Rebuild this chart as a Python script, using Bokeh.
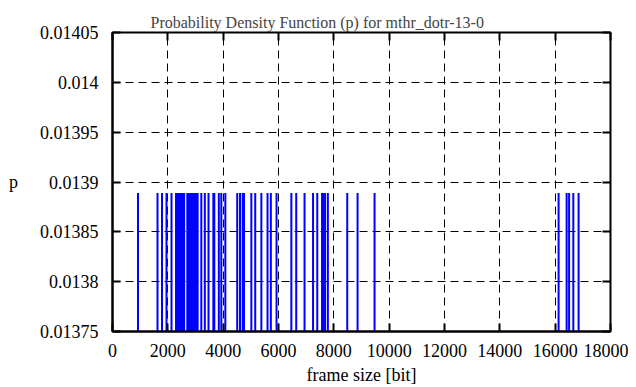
from bokeh.plotting import figure
from bokeh.models import FixedTicker, LinearAxis, Range1d, ColumnDataSource
from bokeh.embed import file_html
from bokeh.resources import INLINE

# ---- data ----
frame_sizes = [
    922, 1627, 1790, 1952, 2133,
    2296, 2325, 2357, 2386, 2415, 2448, 2476, 2509, 2538, 2567, 2589,
    2704, 2733, 2759, 2787, 2820, 2849, 2874, 2907, 2936, 2965, 2990, 3022, 3051, 3077,
    3210, 3337, 3471, 3644, 3680, 3843, 3933,
    4078, 4508, 4610, 4707, 4754, 5018, 5159, 5380, 5604, 5723, 5929,
    6464, 6641, 6941, 7249, 7401, 7574, 7628, 7683, 7784, 8485, 8858, 9472,
    16124, 16414, 16504, 16656, 16847,
]
prob_value = 0.013889
probs = [prob_value] * len(frame_sizes)
base = [0.0] * len(frame_sizes)

x_ticks = [0, 2000, 4000, 6000, 8000, 10000, 12000, 14000, 16000, 18000]
y_ticks = [0.01375, 0.0138, 0.01385, 0.0139, 0.01395, 0.014, 0.01405]
y_tick_labels = ["0.01375", "0.0138", "0.01385", "0.0139", "0.01395", "0.014", "0.01405"]

title_text = "Probability Density Function (p) for mthr_dotr-13-0"
x_label = "frame size [bit]"
y_label = "p"

TITLE_FONT = "Times New Roman"
FONT = "Liberation Serif"

p = figure(
    output_backend="svg", toolbar_location=None,
    frame_width=498, frame_height=299,
    min_border_left=112, min_border_right=18, min_border_top=32, min_border_bottom=10,
    x_range=Range1d(x_ticks[0], x_ticks[-1]),
    y_range=Range1d(y_ticks[0], y_ticks[-1]),
    title=title_text,
)
p.title.align = "left"
p.title.vertical_align = "top"
p.title.text_font = TITLE_FONT
p.title.text_font_size = "16px"
p.title.text_font_style = "normal"
p.title.standoff = 0
p.title.offset = 38

src = ColumnDataSource(dict(x=frame_sizes, y0=base, y1=probs))
p.segment(x0="x", y0="y0", x1="x", y1="y1", source=src,
          line_color="#0000ff", line_width=2)

xt = FixedTicker(ticks=x_ticks, minor_ticks=[])
yt = FixedTicker(ticks=y_ticks, minor_ticks=[])

p.xaxis.ticker = xt
p.yaxis.ticker = yt
p.yaxis.major_label_overrides = {v: s for v, s in zip(y_ticks, y_tick_labels)}
p.xaxis.major_label_overrides = {v: str(v) for v in x_ticks}

for ax in (p.xaxis[0], p.yaxis[0]):
    ax.major_tick_in = 8
    ax.major_tick_out = 0
    ax.major_tick_line_width = 2
    ax.major_tick_line_color = "black"
    ax.minor_tick_line_color = None
    ax.axis_line_width = 2
    ax.axis_line_color = "black"
    ax.major_label_text_font = FONT
    ax.major_label_text_font_size = "18px"
    ax.major_label_text_color = "black"
    ax.axis_label_text_font = FONT
    ax.axis_label_text_font_size = "18px"
    ax.axis_label_text_font_style = "normal"
    ax.axis_label_text_color = "black"

p.xaxis.axis_label = x_label
p.yaxis.axis_label = y_label
p.yaxis.axis_label_orientation = "horizontal"
p.xaxis.major_label_standoff = 12
p.yaxis.major_label_standoff = 14
p.xaxis.axis_label_standoff = 5
p.yaxis.axis_label_standoff = 19

# mirrored ticks on top and right (labels left empty)
for loc, tk, ticks in (("above", xt, x_ticks), ("right", yt, y_ticks)):
    ax = LinearAxis(ticker=tk)
    ax.major_tick_in = 8
    ax.major_tick_out = 0
    ax.major_tick_line_width = 2
    ax.minor_tick_line_color = None
    ax.axis_line_color = None
    ax.major_label_overrides = {v: "" for v in ticks}
    ax.major_label_standoff = 0
    p.add_layout(ax, loc)

p.xgrid.ticker = xt
p.ygrid.ticker = yt
for g in (p.xgrid[0], p.ygrid[0]):
    g.grid_line_color = "black"
    g.grid_line_dash = "8 5"
    g.grid_line_width = 1
    g.grid_line_alpha = 1.0

p.outline_line_color = "black"
p.outline_line_width = 2
p.background_fill_color = "white"
p.border_fill_color = "white"

open("out.html", "w").write(file_html(p, INLINE))
